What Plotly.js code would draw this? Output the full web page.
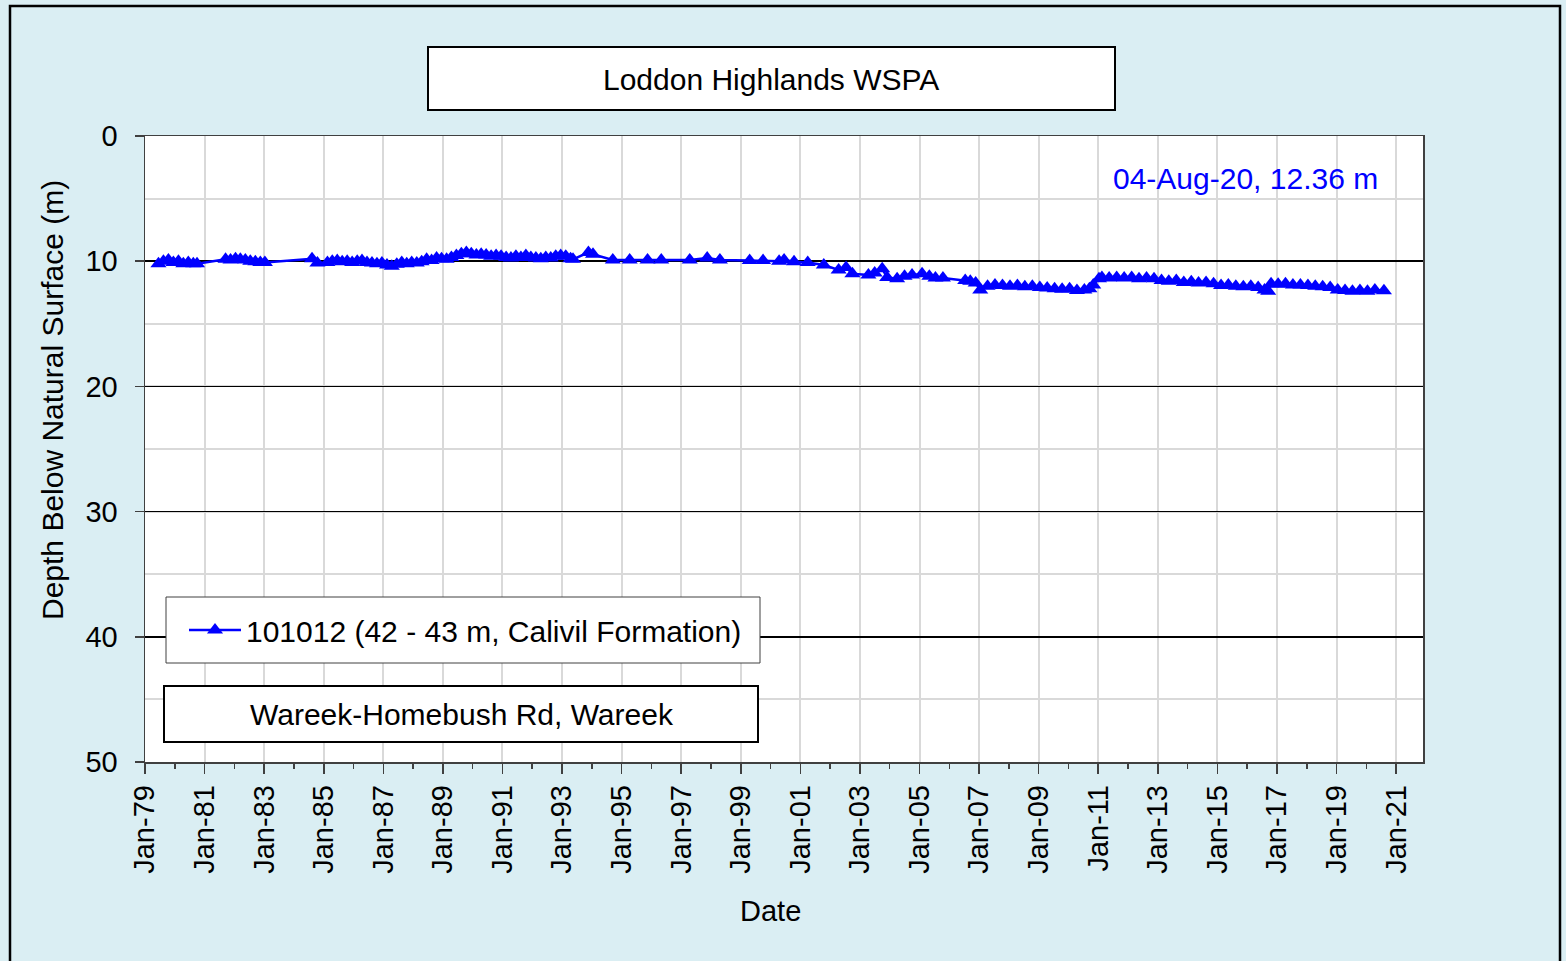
<!DOCTYPE html>
<html>
<head>
<meta charset="utf-8">
<script src="https://cdn.plot.ly/plotly-3.0.1.min.js"></script>
<style>html,body{margin:0;padding:0;background:#DAEEF3;}#chart{width:1566px;height:961px;}</style>
</head>
<body>
<div id="chart"></div>
<script>
// ---- data ----
var dates = [
 '1979-06-15','1979-08-15','1979-10-15','1979-12-15','1980-02-15','1980-04-15','1980-06-15','1980-08-15','1980-09-30',
 '1981-09-15','1981-11-15','1982-01-15','1982-03-15','1982-05-15','1982-07-15','1982-09-15','1982-11-15','1983-01-10',
 '1984-08-10','1984-10-15',
 '1985-02-15','1985-04-15','1985-06-15','1985-08-15','1985-10-15','1985-12-15',
 '1986-02-15','1986-04-15','1986-06-15','1986-08-15','1986-10-15','1986-12-15',
 '1987-02-15','1987-04-15','1987-06-15','1987-08-15','1987-10-15','1987-12-15',
 '1988-02-15','1988-04-15','1988-06-15','1988-08-15','1988-10-15','1988-12-15',
 '1989-02-15','1989-04-15','1989-06-15','1989-08-15','1989-10-15','1989-12-15',
 '1990-02-15','1990-04-15','1990-06-15','1990-08-15','1990-10-15','1990-12-15',
 '1991-02-15','1991-04-15','1991-06-15','1991-08-15','1991-10-15','1991-12-15',
 '1992-02-15','1992-04-15','1992-06-15','1992-08-15','1992-10-15','1992-12-15',
 '1993-02-15','1993-04-15','1993-05-15',
 '1993-11-20','1994-01-15','1994-09-15','1995-04-10','1995-11-15','1996-05-01','1997-04-15','1997-11-15','1998-04-20',
 '1999-04-20','1999-10-01','2000-04-15','2000-06-15','2000-10-15','2001-04-01','2001-10-15',
 '2002-04-15','2002-07-15','2002-10-01','2003-04-15','2003-07-01','2003-10-01','2003-12-01',
 '2004-04-01','2004-07-01','2004-10-01','2005-02-01','2005-05-01','2005-07-15','2005-10-15',
 '2006-07-15','2006-09-15','2006-11-20',
 '2007-01-15','2007-04-15','2007-07-15','2007-10-15','2008-01-15','2008-04-15','2008-07-15','2008-10-15',
 '2009-01-15','2009-04-15','2009-07-15','2009-10-15','2010-01-15','2010-04-15','2010-07-15','2010-09-15','2010-11-01',
 '2011-01-10','2011-02-15','2011-05-15','2011-08-15','2011-11-15','2012-02-15','2012-05-15','2012-08-15','2012-11-15',
 '2013-02-15','2013-05-15','2013-08-15','2013-11-15','2014-02-15','2014-05-15','2014-08-15','2014-11-15',
 '2015-02-15','2015-05-15','2015-08-15','2015-11-15','2016-02-15','2016-05-15','2016-08-01','2016-09-15','2016-10-20',
 '2017-01-15','2017-04-15','2017-07-15','2017-10-15','2018-01-15','2018-04-15','2018-07-15','2018-10-15',
 '2019-01-15','2019-04-15','2019-07-15','2019-10-15','2020-01-15','2020-04-15','2020-08-04'
];
var depth = [
 10.2,10.0,9.9,10.1,10.0,10.2,10.1,10.2,10.2,
 9.85,9.9,9.8,9.85,9.9,10.0,10.05,10.1,10.1,
 9.8,10.15,
 10.1,10.0,9.95,10.05,10.0,10.1,
 10.0,9.95,10.1,10.15,10.2,10.15,
 10.3,10.4,10.25,10.1,10.2,10.1,
 10.15,10.05,9.85,9.95,9.75,9.8,
 9.85,9.7,9.55,9.4,9.3,9.4,
 9.5,9.45,9.5,9.6,9.55,9.6,
 9.7,9.75,9.6,9.7,9.55,9.7,
 9.75,9.8,9.7,9.75,9.6,9.55,
 9.6,9.8,9.85,
 9.3,9.45,9.9,9.9,9.9,9.9,9.9,9.75,9.9,
 9.95,9.95,10.0,9.9,10.05,10.1,10.3,
 10.7,10.5,11.0,11.1,10.95,10.6,11.3,
 11.4,11.2,11.1,11.0,11.2,11.35,11.35,
 11.55,11.6,11.75,
 12.3,12.0,11.9,11.95,12.0,11.95,12.05,12.0,
 12.1,12.15,12.2,12.25,12.2,12.35,12.3,12.2,11.9,
 11.4,11.3,11.35,11.3,11.35,11.3,11.4,11.35,11.4,
 11.55,11.6,11.55,11.7,11.65,11.75,11.7,11.8,
 11.95,11.9,12.0,12.05,12.0,12.1,12.3,12.4,11.8,
 11.85,11.8,11.9,11.9,11.95,12.0,12.05,12.1,
 12.3,12.35,12.4,12.35,12.4,12.3,12.36
];
var seriesName = '101012 (42 - 43 m, Calivil Formation)';
var chartTitle = 'Loddon Highlands WSPA';
var siteName = 'Wareek-Homebush Rd, Wareek';
var lastReading = '04-Aug-20, 12.36 m';
var xTitle = 'Date';
var yTitle = 'Depth Below Natural Surface (m)';
var yTicks = [0, 10, 20, 30, 40, 50];

var FONT = 'Arial, "Liberation Sans", sans-serif';
var W = 1566, H = 961, L = 145, R = 143, T = 136, B = 199;
var PW = W - L - R, PH = H - T - B;
function px(x) { return (x - L) / PW; }
function py(y) { return (H - B - y) / PH; }

var trace = {
  x: dates, y: depth, type: 'scatter', mode: 'lines+markers', name: seriesName,
  line: {color: '#0000FF', width: 2.5},
  marker: {symbol: 'triangle-up', size: 14, color: '#0000FF'}
};

var layout = {
  width: W, height: H,
  margin: {l: L, r: R, t: T, b: B, pad: 0},
  paper_bgcolor: '#DAEEF3', plot_bgcolor: '#FFFFFF',
  font: {family: FONT, color: '#000000', size: 29},
  showlegend: true,
  legend: {x: px(184), y: py(630), xanchor: 'left', yanchor: 'middle', bgcolor: 'rgba(0,0,0,0)',
           borderwidth: 0, font: {family: FONT, size: 30, color: '#000'}, itemwidth: 52},
  xaxis: {
    type: 'date', range: ['1979-01-01', '2021-11-26'],
    tick0: '1979-01-01', dtick: 'M24', tickformat: '%b-%y', tickangle: -90,
    ticks: 'outside', ticklen: 10, tickwidth: 1.5, tickcolor: '#404040',
    ticklabelstandoff: 0,
    showgrid: true, gridcolor: '#D9D9D9', gridwidth: 2,
    minor: {dtick: 'M12', tick0: '1979-01-01', ticks: 'outside', ticklen: 5, tickwidth: 1.5, tickcolor: '#404040', showgrid: false},
    showline: true, linecolor: '#404040', linewidth: 1.5, mirror: true,
    zeroline: false, tickfont: {size: 29}
  },
  yaxis: {
    range: [50, 0], tickvals: yTicks,
    ticks: 'outside', ticklen: 9, tickwidth: 1.5, tickcolor: '#404040',
    ticklabelstandoff: 11,
    showgrid: true, gridcolor: '#000000', gridwidth: 1.5,
    minor: {dtick: 5, showgrid: true, gridcolor: '#D9D9D9', gridwidth: 2, ticks: ''},
    showline: true, linecolor: '#404040', linewidth: 1.5, mirror: true,
    zeroline: false, tickfont: {size: 29}
  },
  shapes: [
    {type: 'rect', xref: 'paper', yref: 'paper', x0: px(10), x1: px(1560), y0: py(990), y1: py(6),
     line: {color: '#000000', width: 2.5}, fillcolor: 'rgba(0,0,0,0)', layer: 'below'},
    {type: 'rect', xref: 'paper', yref: 'paper', x0: px(428), x1: px(1115), y0: py(110), y1: py(47),
     line: {color: '#000000', width: 2}, fillcolor: '#FFFFFF', layer: 'above'},
    {type: 'rect', xref: 'paper', yref: 'paper', x0: px(166), x1: px(760), y0: py(663), y1: py(597),
     line: {color: '#404040', width: 1}, fillcolor: '#FFFFFF', layer: 'above'},
    {type: 'rect', xref: 'paper', yref: 'paper', x0: px(164), x1: px(758), y0: py(742), y1: py(686),
     line: {color: '#000000', width: 2}, fillcolor: '#FFFFFF', layer: 'above'}
  ],
  annotations: [
    {text: chartTitle, xref: 'paper', yref: 'paper', x: px(771), y: py(80), xanchor: 'center', yanchor: 'middle',
     showarrow: false, font: {size: 30, color: '#000'}},
    {text: lastReading, xref: 'paper', yref: 'paper', x: px(1245), y: py(178), xanchor: 'center', yanchor: 'middle',
     showarrow: false, font: {size: 30, color: '#0000FF'}},
    {text: siteName, xref: 'paper', yref: 'paper', x: px(462), y: py(714), xanchor: 'center', yanchor: 'middle',
     showarrow: false, font: {size: 30, color: '#000'}},
    {text: xTitle, xref: 'paper', yref: 'paper', x: px(770), y: py(911), xanchor: 'center', yanchor: 'middle',
     showarrow: false, font: {size: 29, color: '#000'}},
    {text: yTitle, xref: 'paper', yref: 'paper', x: px(52), y: py(400), xanchor: 'center', yanchor: 'middle',
     textangle: -90, showarrow: false, font: {size: 30, color: '#000'}}
  ]
};

Plotly.newPlot('chart', [trace], layout, {staticPlot: true, displayModeBar: false});
</script>
</body>
</html>
